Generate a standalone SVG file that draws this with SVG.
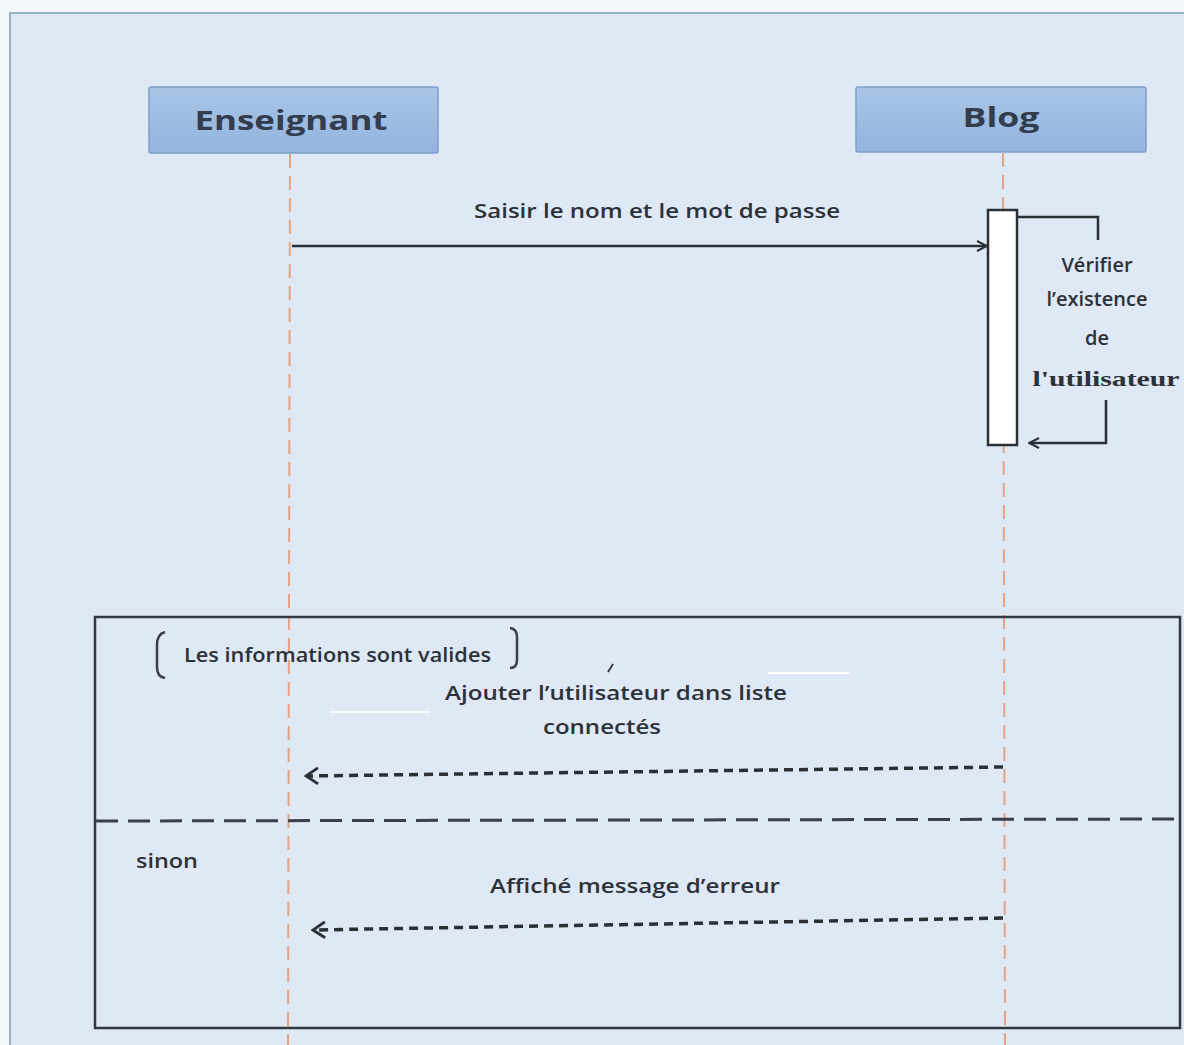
<svg xmlns="http://www.w3.org/2000/svg" width="1184" height="1045" viewBox="0 0 1184 1045">
  <defs>
    <linearGradient id="hdr" x1="0" y1="0" x2="0" y2="1">
      <stop offset="0" stop-color="#a9c6e8"/>
      <stop offset="1" stop-color="#92b4de"/>
    </linearGradient>
    <marker id="open" viewBox="0 0 12 12" refX="11" refY="6" markerWidth="12" markerHeight="12" markerUnits="userSpaceOnUse" orient="auto">
      <path d="M1,1 L11,6 L1,11" fill="none" stroke="#2b2f36" stroke-width="2"/>
    </marker>
    <marker id="openBig" viewBox="0 0 16 18" refX="14" refY="9" markerWidth="16" markerHeight="18" markerUnits="userSpaceOnUse" orient="auto">
      <path d="M2,1 L14,9 L2,17" fill="none" stroke="#2b2f36" stroke-width="2.8"/>
    </marker>
  </defs>
  <style>
    .actor { fill: url(#hdr); stroke: #7f9fc8; stroke-width: 1.5; }
    .actorText { font-family: "Open Sans", "Liberation Sans", sans-serif; font-weight: 700; font-size: 26px; fill: #333d4d; text-anchor: middle; }
    .life { stroke: #e3a482; stroke-width: 2; stroke-dasharray: 14 8; fill: none; }
    .msg { font-family: "Open Sans", "Liberation Sans", sans-serif; font-weight: 600; font-size: 20px; fill: #2d3138; }
    .solid { stroke: #2b2f36; stroke-width: 2.5; fill: none; }
    .ret { stroke: #2b2f36; stroke-width: 3.5; stroke-dasharray: 9 6; fill: none; }
  </style>

  <!-- page and frame -->
  <rect x="0" y="0" width="1184" height="1045" fill="#f4f8fc"/>
  <rect x="10" y="13" width="1190" height="1045" fill="#dfe8f5" stroke="#93b2ca" stroke-width="2"/>

  <!-- lifelines -->
  <g id="lifelines">
    <line class="life" x1="290" y1="154" x2="288" y2="1045"/>
    <line class="life" x1="1003" y1="153" x2="1005" y2="1045"/>
  </g>

  <!-- participants -->
  <g id="enseignant">
    <rect class="actor" x="149" y="87" width="289" height="66" rx="2"/>
    <text class="actorText" x="291" y="130" textLength="193" lengthAdjust="spacingAndGlyphs">Enseignant</text>
  </g>
  <g id="blog">
    <rect class="actor" x="856" y="87" width="290" height="65" rx="2"/>
    <text class="actorText" x="1001" y="127" textLength="77" lengthAdjust="spacingAndGlyphs">Blog</text>
  </g>

  <!-- activation bar on Blog -->
  <g id="activation">
    <rect x="988" y="210" width="29" height="235" fill="#ffffff" stroke="#2b2f36" stroke-width="2.5"/>
  </g>

  <!-- combined fragment (alt) -->
  <g id="alt">
    <rect x="95" y="617" width="1085" height="411" fill="none" stroke="#333840" stroke-width="2.5"/>
    <line x1="96" y1="821" x2="1184" y2="819" stroke="#3a3f48" stroke-width="3" stroke-dasharray="22 10"/>
    <path d="M165,632 Q157,634 157,645 L157,667 Q157,677 165,678" fill="none" stroke="#3a3f48" stroke-width="2.5"/>
    <path d="M510,628 Q517,629 517,637 L517,660 Q517,668 510,668" fill="none" stroke="#3a3f48" stroke-width="2.5"/>
    <text class="msg" x="184" y="662" font-size="16" textLength="307" lengthAdjust="spacingAndGlyphs" fill="#3a3f48">Les informations sont valides</text>
    <text class="msg" x="136" y="868" textLength="62" lengthAdjust="spacingAndGlyphs">sinon</text>
    <!-- small white marks -->
    <line x1="330" y1="712" x2="430" y2="712" stroke="#ffffff" stroke-width="2"/>
    <line x1="768" y1="673" x2="850" y2="673" stroke="#ffffff" stroke-width="2"/>
    <line x1="608" y1="672" x2="613" y2="664" stroke="#2d3138" stroke-width="1.8"/>
  </g>

  <!-- connectors -->
  <g id="connectors">
    <line class="solid" x1="292" y1="246" x2="987" y2="246" marker-end="url(#open)"/>
    <text class="msg" x="657" y="218" text-anchor="middle" textLength="366" lengthAdjust="spacingAndGlyphs">Saisir le nom et le mot de passe</text>

    <polyline class="solid" points="1018,217 1098,217 1098,240"/>
    <polyline class="solid" points="1106,400 1106,443 1029,443" marker-end="url(#open)"/>
    <text class="msg" x="1097" y="272" text-anchor="middle">Vérifier</text>
    <text class="msg" x="1097" y="306" text-anchor="middle">l’existence</text>
    <text class="msg" x="1097" y="345" text-anchor="middle">de</text>
    <text x="1106" y="386" text-anchor="middle" font-family="'Liberation Serif', serif" font-weight="700" font-size="21" fill="#2d3138" textLength="147" lengthAdjust="spacingAndGlyphs">l'utilisateur</text>

    <text class="msg" x="616" y="700" text-anchor="middle" textLength="342" lengthAdjust="spacingAndGlyphs">Ajouter l’utilisateur dans liste</text>
    <text class="msg" x="602" y="734" text-anchor="middle" textLength="118" lengthAdjust="spacingAndGlyphs">connectés</text>
    <line class="ret" x1="1003" y1="767" x2="306" y2="776" marker-end="url(#openBig)"/>

    <text class="msg" x="635" y="893" text-anchor="middle" textLength="290" lengthAdjust="spacingAndGlyphs">Affiché message d’erreur</text>
    <line class="ret" x1="1003" y1="918" x2="313" y2="930" marker-end="url(#openBig)"/>
  </g>
</svg>
